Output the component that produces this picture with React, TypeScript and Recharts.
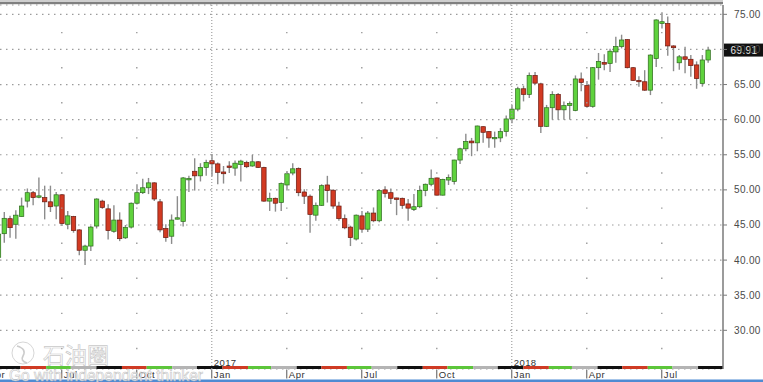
import React from 'react';
import { ComposedChart, Bar, XAxis, YAxis, CartesianGrid, ReferenceLine, ReferenceArea } from 'recharts';

// Weekly candles (week starting Monday)
const weekStarts = [
  '2016-04-18','2016-04-25','2016-05-02','2016-05-09','2016-05-16','2016-05-23','2016-05-30','2016-06-06','2016-06-13','2016-06-20','2016-06-27',
  '2016-07-04','2016-07-11','2016-07-18','2016-07-25','2016-08-01','2016-08-08','2016-08-15','2016-08-22','2016-08-29','2016-09-05','2016-09-12',
  '2016-09-19','2016-09-26','2016-10-03','2016-10-10','2016-10-17','2016-10-24','2016-10-31','2016-11-07','2016-11-14','2016-11-21','2016-11-28',
  '2016-12-05','2016-12-12','2016-12-19','2016-12-26',
  '2017-01-02','2017-01-09','2017-01-16','2017-01-23','2017-01-30','2017-02-06','2017-02-13','2017-02-20','2017-02-27','2017-03-06','2017-03-13',
  '2017-03-20','2017-03-27','2017-04-03','2017-04-10','2017-04-17','2017-04-24','2017-05-01','2017-05-08','2017-05-15','2017-05-22','2017-05-29',
  '2017-06-05','2017-06-12','2017-06-19','2017-06-26','2017-07-03','2017-07-10','2017-07-17','2017-07-24','2017-07-31','2017-08-07','2017-08-14',
  '2017-08-21','2017-08-28','2017-09-04','2017-09-11','2017-09-18','2017-09-25','2017-10-02','2017-10-09','2017-10-16','2017-10-23','2017-10-30',
  '2017-11-06','2017-11-13','2017-11-20','2017-11-27','2017-12-04','2017-12-11','2017-12-18','2017-12-25',
  '2018-01-01','2018-01-08','2018-01-15','2018-01-22','2018-01-29','2018-02-05','2018-02-12','2018-02-19','2018-02-26','2018-03-05','2018-03-12',
  '2018-03-19','2018-03-26','2018-04-02','2018-04-09','2018-04-16','2018-04-23','2018-04-30','2018-05-07','2018-05-14','2018-05-21','2018-05-28',
  '2018-06-04','2018-06-11','2018-06-18','2018-06-25','2018-07-02','2018-07-09','2018-07-16','2018-07-23','2018-07-30','2018-08-06','2018-08-13',
  '2018-08-20','2018-08-27',
];

const openPx = [
  40.4, 43.76, 45.9, 45.1, 46.2, 48.4, 49.6, 49.0, 48.9, 48.3, 47.7,
  49.3, 45.1, 46.2, 44.3, 41.4, 42.0, 44.85, 48.4, 47.3, 44.1, 45.7,
  43.17, 44.7, 48.1, 49.6, 50.3, 51.0, 48.3, 44.5, 43.4, 45.9, 45.5,
  51.5, 52.65, 52.0, 53.2,
  54.15, 53.7, 52.55, 53.4, 53.1, 53.6, 53.9, 53.4, 54.0, 53.2, 48.4,
  48.8, 48.2, 50.7, 52.4, 53.05, 49.7, 49.1, 46.4, 47.8, 50.7, 49.95,
  47.7, 45.9, 44.7, 43.0, 46.3, 44.4, 46.7, 45.6, 50.0, 49.6, 48.8,
  48.8, 48.0, 47.2, 47.6, 49.9, 50.8, 51.7, 49.25, 51.4, 51.2, 54.25,
  55.85, 56.95, 56.7, 59.0, 58.3, 57.35, 57.4, 58.3,
  60.1, 61.5, 64.4, 63.6, 66.3, 65.1, 59.05, 61.7, 63.6, 61.4, 62.0,
  61.3, 65.8, 64.85, 61.9, 67.4, 68.15, 68.0, 69.65, 70.4, 71.4, 67.4,
  65.6, 65.4, 64.2, 68.7, 73.7, 73.7, 70.5, 68.1, 68.95, 68.6, 67.8,
  65.15, 68.5,
];

const highPx = [
  44.6, 46.85, 46.3, 47.1, 48.9, 50.2, 49.85, 51.76, 50.6, 50.6, 49.7,
  49.4, 47.0, 46.3, 44.4, 42.2, 44.85, 48.8, 48.6, 47.95, 47.8, 46.8,
  45.0, 48.2, 50.8, 51.6, 51.7, 51.1, 48.7, 45.1, 46.5, 49.1, 51.85,
  52.0, 54.5, 53.8, 54.3,
  55.1, 53.9, 53.4, 54.06, 54.2, 54.3, 54.15, 55.0, 54.1, 53.3, 49.6,
  48.9, 51.05, 52.7, 53.8, 53.2, 50.1, 49.35, 48.2, 50.8, 52.0, 50.1,
  48.3, 46.5, 44.9, 46.5, 47.0, 47.0, 47.5, 50.1, 50.5, 50.2, 48.9,
  48.9, 48.7, 49.4, 50.6, 50.9, 52.9, 51.75, 51.6, 52.2, 54.3, 56.0,
  58.0, 57.4, 59.15, 59.05, 58.35, 58.3, 58.8, 60.6,
  62.1, 64.7, 64.85, 66.7, 66.8, 65.25, 62.1, 64.05, 63.8, 62.6, 62.6,
  66.3, 66.7, 65.5, 67.5, 69.5, 69.3, 70.1, 71.8, 72.1, 71.45, 67.5,
  66.2, 67.05, 69.3, 74.3, 75.3, 74.7, 70.6, 69.2, 70.4, 69.2, 68.3,
  69.2, 70.4,
];

const lowPx = [
  39.0, 42.47, 43.2, 43.05, 46.2, 47.5, 47.8, 48.8, 45.8, 46.85, 45.8,
  44.85, 44.4, 43.9, 40.7, 39.3, 41.3, 44.5, 47.3, 42.95, 43.9, 42.7,
  43.0, 44.5, 47.9, 49.4, 49.4, 48.4, 43.97, 42.6, 42.3, 45.8, 44.8,
  49.7, 49.9, 51.2, 52.0,
  51.95, 50.8, 50.9, 52.4, 52.0, 51.2, 53.1, 53.3, 53.1, 48.3, 47.0,
  46.9, 47.0, 49.9, 52.1, 49.1, 48.0, 43.9, 45.6, 47.7, 48.2, 47.3,
  45.6, 44.4, 42.0, 42.8, 43.9, 44.0, 45.4, 45.4, 48.9, 48.0, 46.4,
  47.3, 45.6, 47.0, 47.4, 49.1, 50.5, 49.2, 49.2, 50.7, 50.75, 53.7,
  55.5, 54.8, 55.5, 56.7, 56.0, 56.0, 56.8, 57.6,
  59.5, 61.2, 62.6, 63.1, 65.0, 58.1, 58.95, 60.0, 60.0, 60.0, 60.0,
  61.2, 64.05, 61.7, 61.7, 65.7, 67.05, 66.8, 68.1, 70.15, 67.3, 65.5,
  64.7, 64.1, 63.5, 67.5, 73.0, 69.1, 66.9, 67.1, 66.6, 66.1, 64.4,
  64.7, 68.1,
];

const closePx = [
  43.7, 45.95, 44.62, 46.4, 47.7, 49.6, 48.9, 49.1, 48.3, 47.6, 49.3,
  45.2, 46.3, 44.2, 41.4, 42.0, 44.7, 48.7, 47.5, 44.2, 45.7, 43.05,
  44.67, 48.1, 49.6, 50.3, 51.0, 48.7, 44.3, 43.2, 45.7, 45.95, 51.7,
  51.55, 52.0, 53.2, 53.9,
  53.7, 52.5, 52.3, 53.2, 53.8, 54.1, 53.3, 54.0, 53.2, 48.4, 48.8,
  48.1, 50.9, 52.3, 53.0, 49.6, 49.1, 46.5, 47.8, 50.6, 49.9, 47.7,
  45.9, 44.6, 43.2, 46.4, 44.4, 46.7, 45.6, 49.9, 49.5, 48.8, 48.7,
  47.8, 47.4, 47.6, 49.9, 50.8, 51.65, 49.25, 51.5, 51.75, 54.25, 55.85,
  56.9, 56.7, 59.1, 58.2, 57.4, 57.4, 58.3, 60.1,
  61.5, 64.4, 63.6, 66.3, 65.2, 59.05, 61.7, 63.6, 61.4, 62.0, 62.3,
  65.8, 65.3, 61.9, 67.4, 68.3, 67.9, 69.75, 70.4, 71.35, 67.4, 65.6,
  65.4, 64.2, 69.2, 74.2, 73.95, 70.5, 70.25, 68.95, 68.6, 67.7, 65.85,
  68.5, 69.91,
];

const priceTicks = [30, 35, 40, 45, 50, 55, 60, 65, 70, 75];
const lastPrice = 69.91;

const quarterStarts = ['2016-04-04','2016-07-04','2016-10-03','2017-01-02','2017-04-03','2017-07-03','2017-10-02','2018-01-01','2018-04-02','2018-07-02'];
const quarterLabels = ['Apr','Jul','Oct','Jan','Apr','Jul','Oct','Jan','Apr','Jul'];
const quarterYears = ['', '', '', '2017', '', '', '', '2018', '', ''];

const bandColors = ['#111111', '#cf3b24', '#5cc63a', '#b4b4b4'];

const BASE = Date.parse('2016-04-25');
const weekPos = (d: string) => (Date.parse(d) - BASE) / (7 * 86400000);

const rows = weekStarts.map((d, k) => ({
  i: weekPos(d),
  o: openPx[k],
  h: highPx[k],
  l: lowPx[k],
  c: closePx[k],
  range: [lowPx[k], highPx[k]],
}));

const quarterPos = quarterStarts.map(weekPos);

// monthly colour band: each segment spans mid-month to mid-month around a month start
const bandSegments: { x1: number; x2: number; color: string }[] = [];
for (let y = 2016, m = 3; y * 12 + m <= 2018 * 12 + 8; m++) {
  if (m > 11) { m = 0; y++; }
  const py = m === 0 ? y - 1 : y;
  const pm = m === 0 ? 12 : m;
  const prev = `${py}-${String(pm).padStart(2, '0')}-15`;
  const cur = `${y}-${String(m + 1).padStart(2, '0')}-15`;
  bandSegments.push({ x1: weekPos(prev), x2: weekPos(cur), color: bandColors[(y * 12 + m) % 4] });
}

const X_DOMAIN: [number, number] = [-0.71, 124.61];
const Y_DOMAIN: [number, number] = [24.49, 76.33];

function Candle(props: any) {
  const { x, y, width, height, payload } = props;
  if (!payload || !isFinite(x) || !isFinite(y)) return null;
  const { o, h, l, c } = payload;
  const cx = x + width / 2;
  const k = h - l > 0 ? height / (h - l) : 0;
  const py = (v: number) => y + (h - v) * k;
  const up = c >= o;
  const top = py(Math.max(o, c));
  const bot = py(Math.min(o, c));
  const bw = 4.4;
  const raw = bot - top;
  const bh = Math.max(raw, 1.4);
  const by = top - (bh - raw) / 2;
  return (
    <g>
      <line x1={cx} x2={cx} y1={y} y2={y + height} stroke="#8c8c8c" strokeWidth={1.4} />
      <rect x={cx - bw / 2} y={by} width={bw} height={bh} fill={up ? '#5fd23d' : '#d23a22'} stroke={up ? '#2e6a1e' : '#6a1a10'} strokeWidth={0.7} />
    </g>
  );
}

function QuarterTick(props: any) {
  const { x, payload } = props;
  const k = quarterPos.findIndex((p) => Math.abs(p - payload.value) < 0.01);
  if (k < 0) return null;
  const font = 'Liberation Sans, Arial, sans-serif';
  return (
    <g>
      <line x1={x} x2={x} y1={369.5} y2={378.5} stroke="#555" strokeWidth={1} />
      <text x={x + 2} y={377.5} fontSize={9.5} fill="#333" fontFamily={font} letterSpacing={0.6}>{quarterLabels[k]}</text>
      {quarterYears[k] ? (
        <text x={x + 2} y={365.5} fontSize={9.5} fill="#333" fontFamily={font} letterSpacing={0.4}>{quarterYears[k]}</text>
      ) : null}
    </g>
  );
}

function PriceTick(props: any) {
  const { x, y, payload } = props;
  return (
    <text x={x} y={y} dy={3.5} fontSize={10} fill="#4a4a4a" fontFamily="Liberation Sans, Arial, sans-serif" letterSpacing={0.35} textAnchor="start">
      {Number(payload.value).toFixed(2)}
    </text>
  );
}

function PriceTag(props: any) {
  const vb = props.viewBox || {};
  const x = (vb.x || 0) + (vb.width || 0) + 1;
  const y = vb.y || 0;
  return (
    <g>
      <rect x={x} y={y - 6.5} width={39} height={13} fill="#111" />
      <text x={x + 20} y={y + 3.5} textAnchor="middle" fontSize={10} fill="#e8e8e8" fontFamily="Liberation Sans, Arial, sans-serif" letterSpacing={0.35}>
        {lastPrice.toFixed(2)}
      </text>
    </g>
  );
}

export default function App() {
  return (
    <div style={{ position: 'absolute', left: 0, top: 0, width: 763, height: 382, background: '#fff', overflow: 'hidden' }}>
      <ComposedChart width={763} height={382} data={rows} margin={{ top: 5, right: 0, bottom: 0, left: 0 }}>
        <CartesianGrid vertical={false} stroke="#9c9c9c" strokeWidth={1.2} strokeDasharray="1.5 4.5" />
        {bandSegments.map((s, k) => (
          <ReferenceArea key={'b' + k} x1={s.x1} x2={s.x2} y1={Y_DOMAIN[0]} y2={Y_DOMAIN[0] + 3 / 7.022} fill={s.color} fillOpacity={1} stroke="none" ifOverflow="hidden" />
        ))}
        {quarterPos.map((p, k) =>
          quarterYears[k] ? (
            <ReferenceLine key={'q' + k} segment={[{ x: p, y: Y_DOMAIN[1] }, { x: p, y: Y_DOMAIN[0] }]} stroke="#9a9a9a" strokeWidth={1.1} strokeDasharray="1 2" />
          ) : (
            <ReferenceLine key={'q' + k} segment={[{ x: p, y: 72.5 }, { x: p, y: Y_DOMAIN[0] }]} stroke="#9a9a9a" strokeWidth={1.4} strokeDasharray="1.4 33.7" />
          )
        )}
        <XAxis
          dataKey="i"
          type="number"
          domain={X_DOMAIN}
          allowDataOverflow
          ticks={quarterPos}
          interval={0}
          tick={<QuarterTick />}
          axisLine={false}
          tickLine={false}
          height={13}
        />
        <YAxis
          orientation="right"
          type="number"
          domain={Y_DOMAIN}
          allowDataOverflow
          ticks={priceTicks}
          interval={0}
          width={40}
          tick={<PriceTick />}
          tickSize={4}
          tickMargin={7}
          axisLine={{ stroke: '#7a7a7a', strokeWidth: 1.5 }}
          tickLine={{ stroke: '#7a7a7a' }}
        />
        <Bar dataKey="range" shape={<Candle />} isAnimationActive={false} />
        <ReferenceLine y={lastPrice} stroke="none" label={<PriceTag />} />
      </ComposedChart>
      <svg width={763} height={382} style={{ position: 'absolute', left: 0, top: 0, pointerEvents: 'none' }}>
        <rect x={0} y={0} width={723} height={2} fill="#cfcfcf" />
        <rect x={0} y={2} width={723} height={2.2} fill="#808080" />
        <rect x={0} y={379.5} width={763} height={2.5} fill="#4f8bd3" />
        <g opacity={0.85}>
          <circle cx={23} cy={353} r={11} fill="#ffffff" stroke="#c4c4c4" strokeWidth={0.8} />
          <path d="M17 346 Q27 349 23 356 Q20 361 27 363" fill="none" stroke="#c4c4c4" strokeWidth={1.6} />
          <text x={43} y={363} fontSize={22} fontFamily="Noto Sans CJK SC, sans-serif" fill="#ffffff" stroke="#c0c0c0" strokeWidth={0.7}>石油圈</text>
          <text x={9} y={381} fontSize={17} fontFamily="Liberation Sans, Arial, sans-serif" fill="#ffffff" stroke="#b8b8b8" strokeWidth={0.6} textLength={194} lengthAdjust="spacingAndGlyphs">Go with independent thinker</text>
        </g>
      </svg>
    </div>
  );
}
